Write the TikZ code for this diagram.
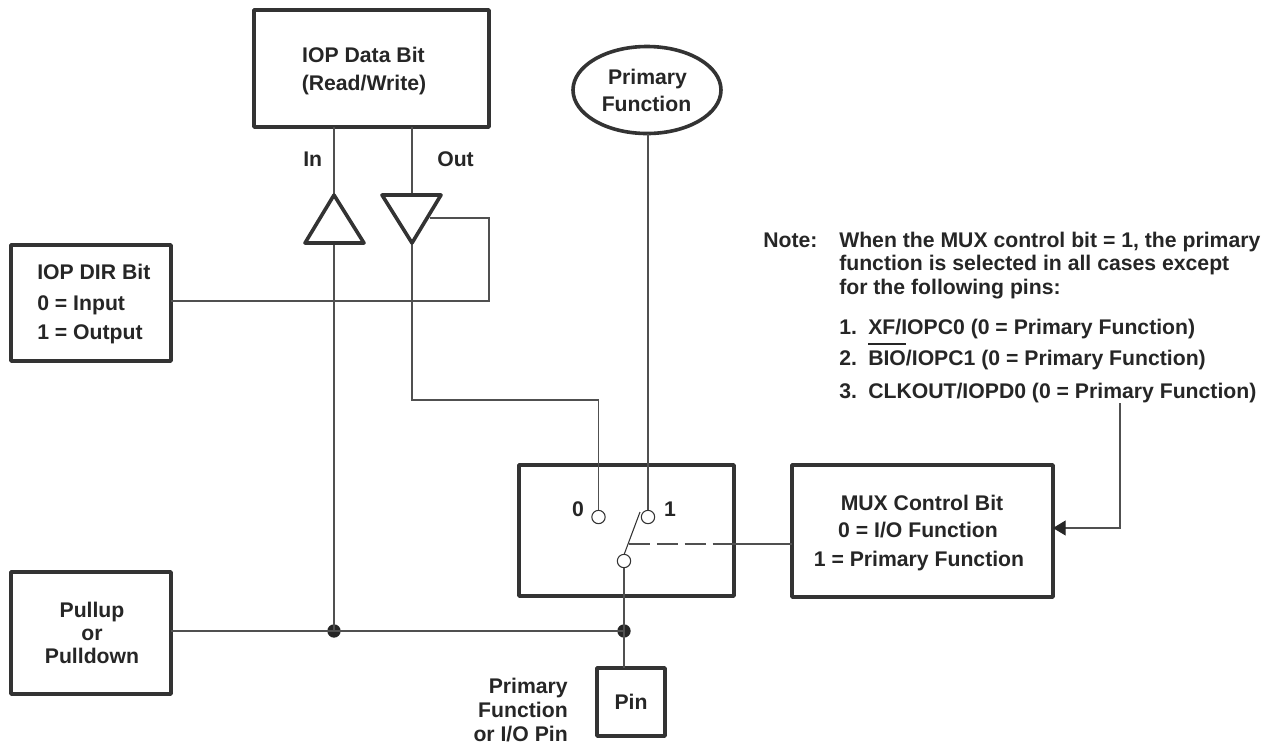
\documentclass[tikz,border=0pt]{standalone}
\usepackage{fontspec}
\setmainfont{Liberation Sans}
\usetikzlibrary{arrows.meta,shapes.geometric}
\definecolor{ink}{HTML}{333333}
\definecolor{wire}{HTML}{505050}
\definecolor{txtc}{HTML}{262626}
\newcommand{\pxbox}[5]{% name, left, top, right, bottom
  \node[thickbox,minimum width=#4*0.75pt-#2*0.75pt,minimum height=#5*0.75pt-#3*0.75pt,anchor=north west] (#1) at (#2,#3) {};}
\tikzset{
  thickbox/.style={draw=ink,line width=2.7pt,fill=white,line join=round,inner sep=0pt,outer sep=0pt},
  wireline/.style={draw=wire,line width=0.8pt},
  txt/.style={font=\fontsize{15.9pt}{20pt}\selectfont\bfseries,text=txtc,inner sep=0pt,text height=11.4pt,text depth=0pt},
  txtl/.style={txt,anchor=west},
  txtr/.style={txt,anchor=east},
  term/.style={circle,draw=ink,line width=0.8pt,fill=white,minimum size=10pt,inner sep=0pt,outer sep=0pt},
  jct/.style={circle,fill=txtc,minimum size=10pt,inner sep=0pt,outer sep=0pt},
  tri/.style={draw=ink,line width=2.7pt,fill=white,line join=round},
}
\begin{document}
\begin{tikzpicture}[x=0.75pt,y=-0.75pt]
\useasboundingbox (0,0) rectangle (1272,744);
% boxes
\pxbox{data}{254}{10}{489}{127}
\pxbox{dir}{11}{245}{171}{361}
\pxbox{pull}{11}{572}{171}{694}
\pxbox{mux}{519}{465}{734}{596}
\pxbox{ctl}{792}{465}{1053}{597}
\pxbox{pin}{597}{668}{665}{736}
\node[ellipse,thickbox,minimum width=148*0.75pt,minimum height=87*0.75pt] (prim) at (647,90) {};
% triangles
\coordinate (inapex) at (334,195);
\coordinate (inbase) at (334,243);
\coordinate (outbase) at (412,195);
\coordinate (outapex) at (412,243);
\coordinate (outside) at (430,218);
\coordinate (loopA) at (489,218);
\coordinate (loopB) at (489,301);
\coordinate (bend) at (412,400);
% terminals and junctions
\node[term] (t0) at (598.5,517) {};
\node[term] (t1) at (648,517) {};
\node[term] (tc) at (624,561) {};
\node[jct] (j1) at (334,631) {};
\node[jct] (j2) at (624,631) {};
% wires
\draw[wireline] (data.south -| inapex) -- (inapex);
\draw[wireline] (data.south -| outbase) -- (outbase);
\draw[wireline] (inbase) -- (j1.center);
\draw[wireline] (outapex) -- (bend) -| (t0.north);
\draw[wireline] (dir.east |- loopB) -- (loopB) -- (loopA) -- (outside);
\draw[wireline] (prim.south -| t1) -- (t1.north);
\draw[wireline] (pull.east |- j1) -- (j1.center) -- (j2.center);
\draw[wireline] (tc.south) -- (pin.north -| tc);
% switch blade and dashed control link
\coordinate (bladeTop) at (640,512);
\coordinate (bladeBot) at (624.3,554);
\draw[draw=ink,line width=0.8pt] (bladeBot) -- (bladeTop);
\coordinate (dashStart) at (629,544);
\coordinate (dashEnd) at (713,544);
\draw[wireline,dash pattern=on 15.9pt off 5pt] (dashStart) -- (dashEnd);
\draw[wireline] (dashEnd) -- (ctl.west |- dashEnd);
% note to MUX control bit arrow
\coordinate (noteOut) at (1120,403);
\coordinate (ctlIn) at (1053,528);
\draw[wireline,-{Triangle[length=9.5pt,width=11.25pt,color=txtc,fill=txtc]}] (noteOut) |- (ctlIn);
% triangles on top of wires
\draw[tri] (inapex) -- (364,243) -- (305,243) -- cycle;
\draw[tri] (382,195) -- (441,195) -- (outapex) -- cycle;
% texts
\node[txt] (tdata1) at (363.5,55) {IOP Data Bit};
\node[txt] (tdata2) at (364,83) {(Read/Write)};
\node[txt] (tprim1) at (647.5,77) {Primary};
\node[txt] (tprim2) at (646.5,104) {Function};
\node[txtl] (tin) at (303,159) {In};
\node[txtl] (tout) at (437,159) {Out};
\node[txtl] (d1) at (37,272) {IOP DIR Bit};
\node[txtl] (d2) at (37,303) {0 = Input};
\node[txtl] (d3) at (37,332) {1 = Output};
\node[txt] (p1) at (92,610) {Pullup};
\node[txt] (p2) at (92,633) {or};
\node[txt] (p3) at (92,656) {Pulldown};
\node[txtr] (q1) at (568,686) {Primary};
\node[txtr] (q2) at (568,710) {Function};
\node[txtr] (q3) at (568,734) {or I/O Pin};
\node[txt] (ptxt) at (631,702) {Pin};
\node[txt] (l0) at (578,509) {0};
\node[txt] (l1) at (670,509) {1};
\node[txt] (c1) at (922,503) {MUX Control Bit};
\node[txt] (c2) at (918,530) {0 = I/O Function};
\node[txt] (c3) at (919,559) {1 = Primary Function};
\node[txtl] (n0) at (763,240) {Note:};
\node[txtl] (n1) at (839,240) {When the MUX control bit = 1, the primary};
\node[txtl] (n2) at (839,263) {function is selected in all cases except};
\node[txtl] (n3) at (839,287) {for the following pins:};
\node[txtl] (m1) at (839,327) {1.};
\node[txtl] (m2) at (839,358) {2.};
\node[txtl] (m3) at (839,391) {3.};
\node[txtl] (x1) at (868,327) {XF/IOPC0 (0 = Primary Function)};
\node[txtl] (x2) at (868,358) {BIO/IOPC1 (0 = Primary Function)};
\node[txtl] (x3) at (868,391) {CLKOUT/IOPD0 (0 = Primary Function)};
\coordinate (barL) at (868,344);
\coordinate (barR) at (906,344);
\draw[draw=txtc,line width=1.2pt] (barL) -- (barR);
\end{tikzpicture}
\end{document}
